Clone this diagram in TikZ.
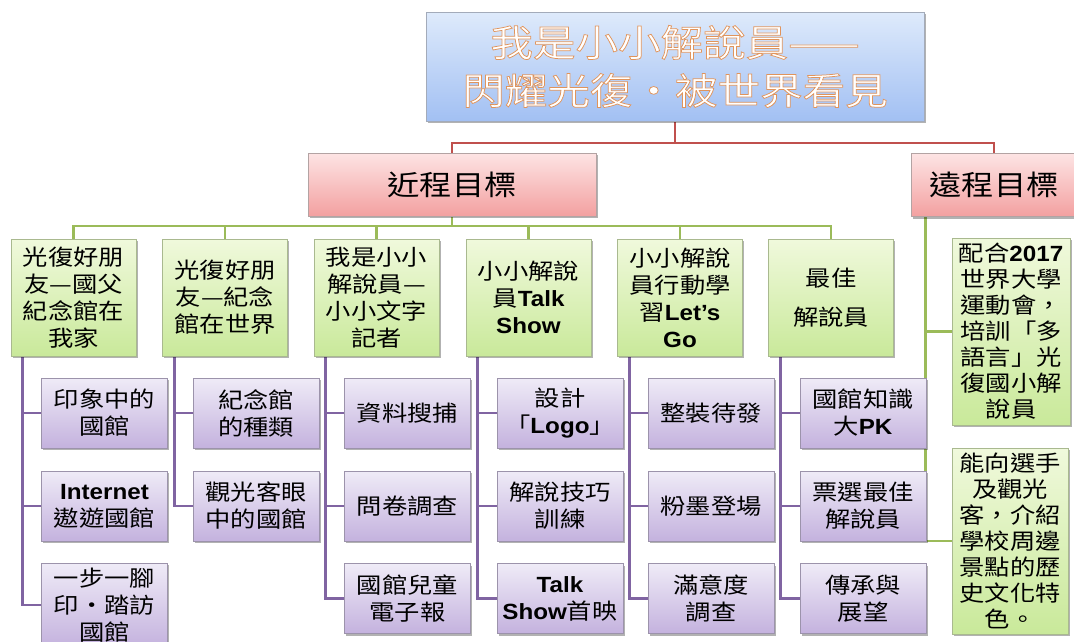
\documentclass[tikz,border=0pt]{standalone}
\usepackage{fontspec}
\newfontfamily\cjk{Noto Sans CJK TC}[FakeStretch=1.15]
\newfontfamily\arial{Liberation Sans}[FakeStretch=1.1]
\newcommand\lb[1]{{\arial\bfseries #1}}
\usetikzlibrary{shadows}
\definecolor{redln}{HTML}{C0504D}
\definecolor{grnln}{HTML}{9BBB59}
\definecolor{purln}{HTML}{8064A2}
\definecolor{gtop}{HTML}{F0F9DC}
\definecolor{gbot}{HTML}{C9E99A}
\definecolor{gbrd}{HTML}{A9B98F}
\definecolor{ptop}{HTML}{EFEBF7}
\definecolor{pbot}{HTML}{C4B2DE}
\definecolor{pbrd}{HTML}{9C93AB}
\definecolor{rtop}{HTML}{FDE4E4}
\definecolor{rbot}{HTML}{F3A0A0}
\definecolor{rbrd}{HTML}{B3A3A3}
\definecolor{btop}{HTML}{DEEAFB}
\definecolor{bbot}{HTML}{A2C0F3}
\definecolor{bbrd}{HTML}{A3ABBA}
\pgfdeclarelayer{background}
\pgfsetlayers{background,main}
\newcommand\outlined[1]{\special{pdf:literal direct 2 Tr 0.75 w 0.88 0.58 0.36 RG}#1\special{pdf:literal direct 0 Tr}}
\tikzset{
  shad/.style={drop shadow={shadow xshift=1.5pt,shadow yshift=-2pt,opacity=.3,fill=black}},
  basebox/.style={line width=0.8pt, inner sep=0pt, align=center, shad},
  titlebox/.style={basebox, draw=bbrd, top color=btop, bottom color=bbot, minimum width=498pt, minimum height=109pt},
  titletext/.style={inner sep=0pt, align=center, text=white, font=\cjk\fontsize{37}{48}\selectfont},
  pinkbox/.style={basebox, draw=rbrd, top color=rtop, bottom color=rbot, minimum width=288pt, minimum height=63pt, font=\cjk\fontsize{28}{32}\selectfont},
  gbox/.style={basebox, draw=gbrd, top color=gtop, bottom color=gbot, minimum width=125pt, minimum height=117pt, font=\cjk\fontsize{22}{27}\selectfont},
  pbox/.style={basebox, draw=pbrd, top color=ptop, bottom color=pbot, minimum width=126pt, minimum height=70pt, font=\cjk\fontsize{22}{27}\selectfont},
  rbox/.style={basebox, draw=gbrd, top color=gtop, bottom color=gbot, font=\cjk\fontsize{22}{26}\selectfont},
  redl/.style={draw=redln, line width=2.5pt},
  grnl/.style={draw=grnln, line width=2.8pt},
  purl/.style={draw=purln, line width=2.8pt}
}
\begin{document}
\begin{tikzpicture}[x=1pt,y=-1pt]
\useasboundingbox (0,0) rectangle (1074,641);
% title
\node[titlebox] (title) at (675,66.5) {};
\node[titletext] (tt) at (title.center) {\outlined{我是小小解說員——}\\\outlined{閃耀光復・被世界看見}};
% level 2
\node[pinkbox] (near) at (452,184.5) {近程目標};
\node[pinkbox, minimum width=166pt] (far) at (994,185) {遠程目標};
% level 3 green
\node[gbox] (g1) at (73.5,297.5) {光復好朋\\友—國父\\紀念館在\\我家};
\node[gbox] (g2) at (225,297.5) {光復好朋\\友—紀念\\館在世界};
\node[gbox] (g3) at (376.5,297.5) {我是小小\\解說員—\\小小文字\\記者};
\node[gbox] (g4) at (528.5,297.5) {小小解說\\員\lb{Talk}\\\lb{Show}};
\node[gbox] (g5) at (680,297.5) {小小解說\\員行動學\\習\lb{Let’s}\\\lb{Go}};
\node[gbox] (g6) at (831,297.5) {最佳\\[12pt]解說員};
% right column
\node[rbox, minimum width=118pt, minimum height=187pt] (r1) at (1011,331.5) {配合\lb{2017}\\世界大學\\運動會，\\培訓「多\\語言」光\\復國小解\\說員};
\node[rbox, minimum width=116pt, minimum height=186pt] (r2) at (1010,541) {能向選手\\及觀光\\客，介紹\\學校周邊\\景點的歷\\史文化特\\色。};
% purple
\node[pbox] (p11) at (104.5,413) {印象中的\\國館};
\node[pbox] (p12) at (104.5,506) {\lb{Internet}\\遨遊國館};
\node[pbox, minimum height=84pt] (p13) at (104.5,605) {一步一腳\\印・踏訪\\國館};
\node[pbox] (p21) at (256,413) {紀念館\\的種類};
\node[pbox] (p22) at (256,506) {觀光客眼\\中的國館};
\node[pbox] (p31) at (407.5,413) {資料搜捕};
\node[pbox] (p32) at (407.5,506) {問卷調查};
\node[pbox] (p33) at (407.5,598.5) {國館兒童\\電子報};
\node[pbox] (p41) at (560,413) {設計\\「\lb{Logo}」};
\node[pbox] (p42) at (560,506) {解說技巧\\訓練};
\node[pbox] (p43) at (560,598.5) {\lb{Talk}\\\lb{Show}首映};
\node[pbox] (p51) at (711,413) {整裝待發};
\node[pbox] (p52) at (711,506) {粉墨登場};
\node[pbox] (p53) at (711,598.5) {滿意度\\調查};
\node[pbox] (p61) at (863,413) {國館知識\\大\lb{PK}};
\node[pbox] (p62) at (863,506) {票選最佳\\解說員};
\node[pbox] (p63) at (863,598.5) {傳承與\\展望};
% connectors
\begin{pgfonlayer}{background}
\coordinate (rbus) at (0,143);
\coordinate (gbus) at (0,226);
\draw[redl] (title.south) -- (title.south |- rbus);
\draw[redl] (near.north) -- (near.north |- rbus) -- (far.north |- rbus) -- (far.north);
\draw[grnl] (near.south) -- (near.south |- gbus);
\draw[grnl] (g1.north) -- (g1.north |- gbus) -- (g6.north |- gbus) -- (g6.north);
\foreach \g in {g2,g3,g4,g5} \draw[grnl] (\g.north) -- (\g.north |- gbus);
\coordinate (fs) at ([xshift=15pt]far.south west);
\draw[grnl] (fs) |- (r2.west);
\draw[grnl] (r1.west) -- (r1.west -| fs);
\foreach \c/\last in {1/3,2/2,3/3,4/3,5/3,6/3} {
  \coordinate (s\c) at ([xshift=12pt]g\c.south west);
  \draw[purl] (s\c) |- (p\c\last.west);
  \foreach \r in {1,...,\last} \draw[purl] (p\c\r.west) -- (p\c\r.west -| s\c);
}
\end{pgfonlayer}
\end{tikzpicture}
\end{document}
